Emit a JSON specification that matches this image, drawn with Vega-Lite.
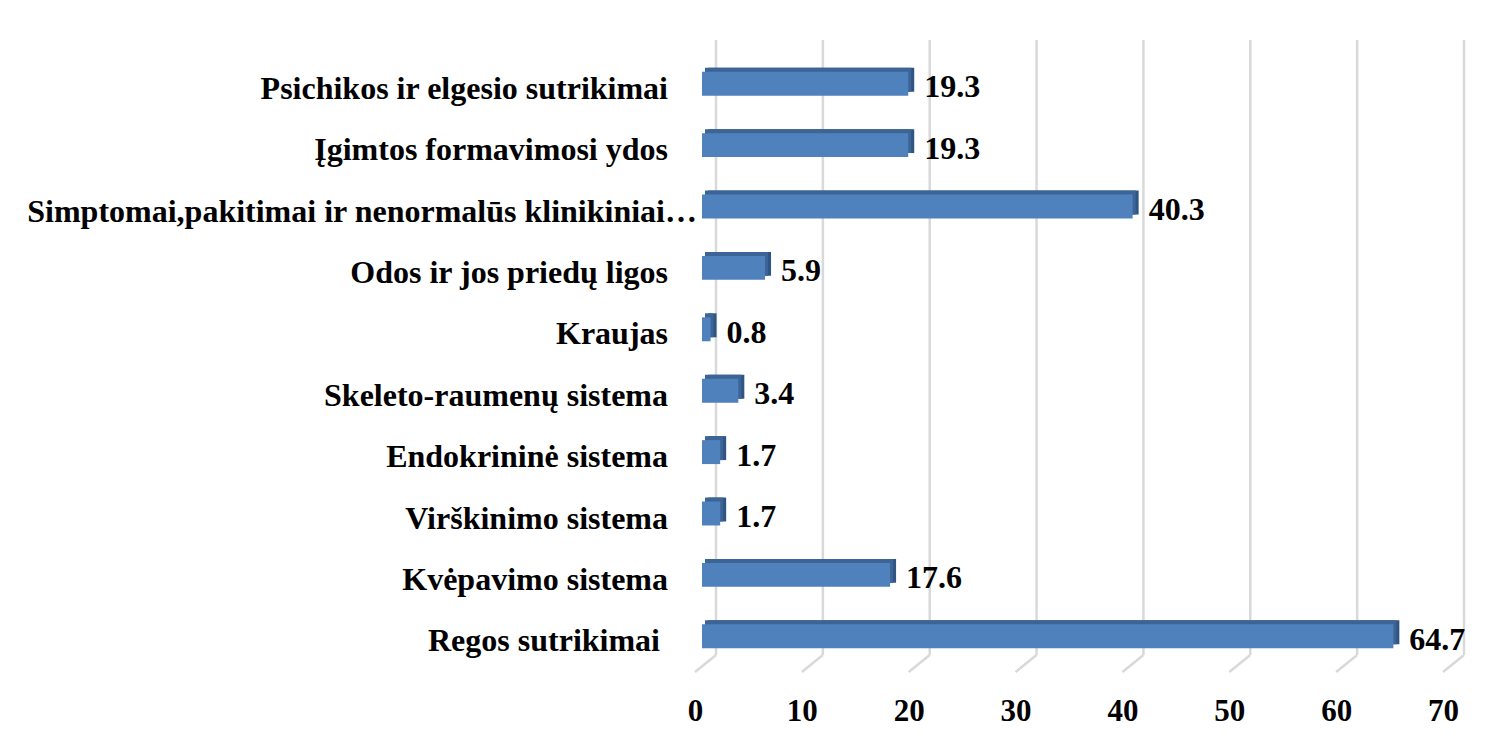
{
  "$schema": "https://vega.github.io/schema/vega-lite/v6.json",
  "width": 748,
  "height": 614,
  "autosize": "none",
  "padding": {"left": 695, "top": 53, "right": 60, "bottom": 77},
  "background": "white",
  "config": {"view": {"stroke": null}},
  "datasets": {
    "bars": [
      {"cat": "Psichikos ir elgesio sutrikimai", "val": 19.3},
      {"cat": "Įgimtos formavimosi ydos", "val": 19.3},
      {"cat": "Simptomai,pakitimai ir nenormalūs klinikiniai…", "val": 40.3},
      {"cat": "Odos ir jos priedų ligos", "val": 5.9},
      {"cat": "Kraujas", "val": 0.8},
      {"cat": "Skeleto-raumenų sistema", "val": 3.4},
      {"cat": "Endokrininė sistema", "val": 1.7},
      {"cat": "Virškinimo sistema", "val": 1.7},
      {"cat": "Kvėpavimo sistema", "val": 17.6},
      {"cat": "Regos sutrikimai", "val": 64.7}
    ],
    "ticks": [
      {"t": 0, "first": "Psichikos ir elgesio sutrikimai", "last": "Regos sutrikimai"},
      {"t": 10, "first": "Psichikos ir elgesio sutrikimai", "last": "Regos sutrikimai"},
      {"t": 20, "first": "Psichikos ir elgesio sutrikimai", "last": "Regos sutrikimai"},
      {"t": 30, "first": "Psichikos ir elgesio sutrikimai", "last": "Regos sutrikimai"},
      {"t": 40, "first": "Psichikos ir elgesio sutrikimai", "last": "Regos sutrikimai"},
      {"t": 50, "first": "Psichikos ir elgesio sutrikimai", "last": "Regos sutrikimai"},
      {"t": 60, "first": "Psichikos ir elgesio sutrikimai", "last": "Regos sutrikimai"},
      {"t": 70, "first": "Psichikos ir elgesio sutrikimai", "last": "Regos sutrikimai"}
    ]
  },
  "encoding": {
    "y": {"type": "nominal", "axis": null,
      "scale": {"domain": ["Psichikos ir elgesio sutrikimai", "Įgimtos formavimosi ydos", "Simptomai,pakitimai ir nenormalūs klinikiniai…", "Odos ir jos priedų ligos", "Kraujas", "Skeleto-raumenų sistema", "Endokrininė sistema", "Virškinimo sistema", "Kvėpavimo sistema", "Regos sutrikimai"],
        "paddingInner": 0.61, "paddingOuter": 0.305}}
  },
  "layer": [
    {
      "data": {"name": "ticks"},
      "mark": {"type": "rule", "color": "#d9d9d9", "strokeWidth": 2.5, "xOffset": 21, "yOffset": -43.7, "y2Offset": 18.7},
      "encoding": {
        "x": {"field": "t", "type": "quantitative", "scale": {"domain": [0, 70]}},
        "y": {"field": "first", "type": "nominal"},
        "y2": {"field": "last"}
      }
    },
    {
      "data": {"name": "ticks"},
      "mark": {"type": "rule", "color": "#d9d9d9", "strokeWidth": 2.5, "xOffset": 21, "x2Offset": 0, "yOffset": 18.7, "y2Offset": 35.7},
      "encoding": {
        "x": {"field": "t", "type": "quantitative"},
        "x2": {"field": "t"},
        "y": {"field": "last", "type": "nominal"},
        "y2": {"field": "last"}
      }
    },
    {
      "data": {"name": "bars"},
      "mark": {"type": "bar", "color": "#2F5583", "xOffset": 13, "yOffset": -4, "x2Offset": 13, "y2Offset": -4},
      "encoding": {
        "y": {"field": "cat", "type": "nominal"},
        "x": {"field": "val", "type": "quantitative"}
      }
    },
    {
      "data": {"name": "bars"},
      "mark": {"type": "bar", "color": "#3C6496", "xOffset": 10, "yOffset": -4, "x2Offset": 10, "y2Offset": -20},
      "encoding": {
        "y": {"field": "cat", "type": "nominal"},
        "x": {"field": "val", "type": "quantitative"}
      }
    },
    {
      "data": {"name": "bars"},
      "mark": {"type": "bar", "color": "#4F81BD", "xOffset": 7, "x2Offset": 7},
      "encoding": {
        "y": {"field": "cat", "type": "nominal"},
        "x": {"field": "val", "type": "quantitative",
          "axis": {"values": [0, 10, 20, 30, 40, 50, 60, 70], "grid": false, "domain": false, "ticks": false, "tickSize": 0, "title": null,
            "labelFont": "Liberation Serif", "labelFontWeight": "bold", "labelFontSize": 31, "labelColor": "black",
            "labelBaseline": "alphabetic", "labelPadding": 53, "labelFlush": false}}
      }
    },
    {
      "data": {"name": "bars"},
      "mark": {"type": "text", "font": "Liberation Serif", "fontWeight": "bold", "fontSize": 32, "color": "black", "align": "left", "baseline": "alphabetic", "dx": 23, "dy": 13.5},
      "encoding": {
        "y": {"field": "cat", "type": "nominal"},
        "x": {"field": "val", "type": "quantitative"},
        "text": {"field": "val", "type": "quantitative", "format": ".1f"}
      }
    },
    {
      "data": {"name": "bars"},
      "transform": [{"filter": "indexof(datum.cat, 'Simptomai') != 0 && datum.cat != 'Regos sutrikimai'"}],
      "mark": {"type": "text", "font": "Liberation Serif", "fontWeight": "bold", "fontSize": 32, "color": "black", "align": "right", "baseline": "alphabetic", "dy": 15, "dx": -27},
      "encoding": {
        "y": {"field": "cat", "type": "nominal"},
        "x": {"datum": 0, "type": "quantitative"},
        "text": {"field": "cat", "type": "nominal"}
      }
    },
    {
      "data": {"name": "bars"},
      "transform": [{"filter": "indexof(datum.cat, 'Simptomai') == 0"}],
      "mark": {"type": "text", "font": "Liberation Serif", "fontWeight": "bold", "fontSize": 32, "color": "black", "align": "right", "baseline": "alphabetic", "dy": 15, "dx": 2},
      "encoding": {
        "y": {"field": "cat", "type": "nominal"},
        "x": {"datum": 0, "type": "quantitative"},
        "text": {"field": "cat", "type": "nominal"}
      }
    },
    {
      "data": {"name": "bars"},
      "transform": [{"filter": "datum.cat == 'Regos sutrikimai'"}],
      "mark": {"type": "text", "font": "Liberation Serif", "fontWeight": "bold", "fontSize": 32, "color": "black", "align": "right", "baseline": "alphabetic", "dy": 15, "dx": -35},
      "encoding": {
        "y": {"field": "cat", "type": "nominal"},
        "x": {"datum": 0, "type": "quantitative"},
        "text": {"field": "cat", "type": "nominal"}
      }
    }
  ]
}
